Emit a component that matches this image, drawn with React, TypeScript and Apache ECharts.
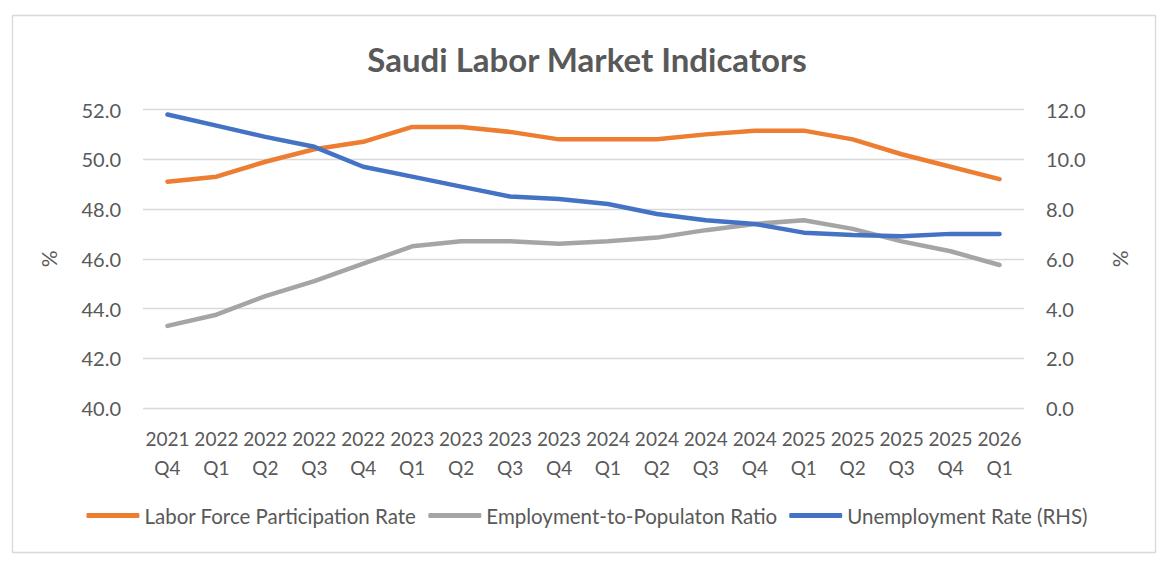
import React, { useEffect, useRef } from "react";
import * as echarts from "echarts";

// Quarterly labels (year on the first line, quarter on the second)
const categories = [
  "2021\nQ4", "2022\nQ1", "2022\nQ2", "2022\nQ3", "2022\nQ4",
  "2023\nQ1", "2023\nQ2", "2023\nQ3", "2023\nQ4",
  "2024\nQ1", "2024\nQ2", "2024\nQ3", "2024\nQ4",
  "2025\nQ1", "2025\nQ2", "2025\nQ3", "2025\nQ4", "2026\nQ1",
];

// Left axis (%)
const laborForceParticipation = [
  49.1, 49.3, 49.9, 50.4, 50.7, 51.3, 51.3, 51.1, 50.8,
  50.8, 50.8, 51.0, 51.15, 51.15, 50.8, 50.2, 49.7, 49.2,
];
const employmentToPopulation = [
  43.3, 43.75, 44.5, 45.1, 45.8, 46.5, 46.7, 46.7, 46.6,
  46.7, 46.85, 47.15, 47.4, 47.55, 47.2, 46.7, 46.3, 45.75,
];

// Right axis (%)
const unemploymentRate = [
  11.8, 11.35, 10.9, 10.5, 9.7, 9.3, 8.9, 8.5, 8.4,
  8.2, 7.8, 7.55, 7.4, 7.05, 6.95, 6.9, 7.0, 7.0,
];

const seriesNames = [
  "Labor Force Participation Rate",
  "Employment-to-Populaton Ratio",
  "Unemployment Rate (RHS)",
];

const FONT = "Lato, Carlito, Calibri, 'Noto Sans', sans-serif";
const TEXT = "#595959";
const GRID = "#d9d9d9";

export default function App() {
  const ref = useRef<HTMLDivElement>(null);

  useEffect(() => {
    if (!ref.current) return;
    const chart = echarts.init(ref.current, undefined, { renderer: "svg" });

    const lineStyle = (color: string) => ({
      color,
      width: 4.5,
      cap: "round" as const,
      join: "round" as const,
    });

    chart.setOption({
      animation: false,
      backgroundColor: "#ffffff",
      textStyle: { fontFamily: FONT, color: TEXT },
      title: {
        text: "Saudi Labor Market Indicators",
        left: "center",
        top: 37,
        textStyle: {
          fontFamily: FONT,
          fontSize: 33,
          fontWeight: "bold",
          color: TEXT,
        },
      },
      graphic: [
        {
          type: "rect",
          shape: { x: 12.5, y: 15.5, width: 1143, height: 537 },
          style: { fill: "none", stroke: GRID, lineWidth: 1.3 },
          silent: true,
        },
      ],
      grid: { left: 143, right: 150, top: 109.5, height: 298.5 },
      legend: {
        data: seriesNames,
        left: "center",
        top: 500,
        icon: "roundRect",
        itemWidth: 53,
        itemHeight: 5,
        itemGap: 12,
        textStyle: { fontFamily: FONT, fontSize: 20.5, color: TEXT },
      },
      xAxis: {
        type: "category",
        data: categories,
        boundaryGap: true,
        axisLine: { show: false },
        axisTick: { show: false },
        axisLabel: {
          interval: 0,
          margin: 16,
          fontFamily: FONT,
          fontSize: 19,
          lineHeight: 29,
          color: TEXT,
        },
      },
      yAxis: [
        {
          type: "value",
          min: 40,
          max: 52,
          interval: 2,
          name: "%",
          nameLocation: "middle",
          nameRotate: 90,
          nameGap: 84,
          nameTextStyle: { fontFamily: FONT, fontSize: 21, color: TEXT },
          axisLine: { show: false },
          axisTick: { show: false },
          splitLine: { lineStyle: { color: GRID, width: 1.3 } },
          axisLabel: {
            margin: 22,
            fontFamily: FONT,
            fontSize: 20,
            color: TEXT,
            formatter: (v: number) => v.toFixed(1),
          },
        },
        {
          type: "value",
          min: 0,
          max: 12,
          interval: 2,
          name: "%",
          nameLocation: "middle",
          nameRotate: 90,
          nameGap: 85,
          nameTextStyle: { fontFamily: FONT, fontSize: 21, color: TEXT },
          axisLine: { show: false },
          axisTick: { show: false },
          splitLine: { show: false },
          axisLabel: {
            margin: 22,
            fontFamily: FONT,
            fontSize: 20,
            color: TEXT,
            formatter: (v: number) => v.toFixed(1),
          },
        },
      ],
      series: [
        {
          name: seriesNames[0],
          type: "line",
          yAxisIndex: 0,
          data: laborForceParticipation,
          showSymbol: false,
          color: "#ED7D31",
          lineStyle: lineStyle("#ED7D31"),
        },
        {
          name: seriesNames[1],
          type: "line",
          yAxisIndex: 0,
          data: employmentToPopulation,
          showSymbol: false,
          color: "#A5A5A5",
          lineStyle: lineStyle("#A5A5A5"),
        },
        {
          name: seriesNames[2],
          type: "line",
          yAxisIndex: 1,
          data: unemploymentRate,
          showSymbol: false,
          color: "#4472C4",
          lineStyle: lineStyle("#4472C4"),
          z: 3,
        },
      ],
    });

    return () => chart.dispose();
  }, []);

  return (
    <div
      ref={ref}
      style={{ position: "fixed", left: 0, top: 0, width: 1174, height: 567 }}
    />
  );
}
